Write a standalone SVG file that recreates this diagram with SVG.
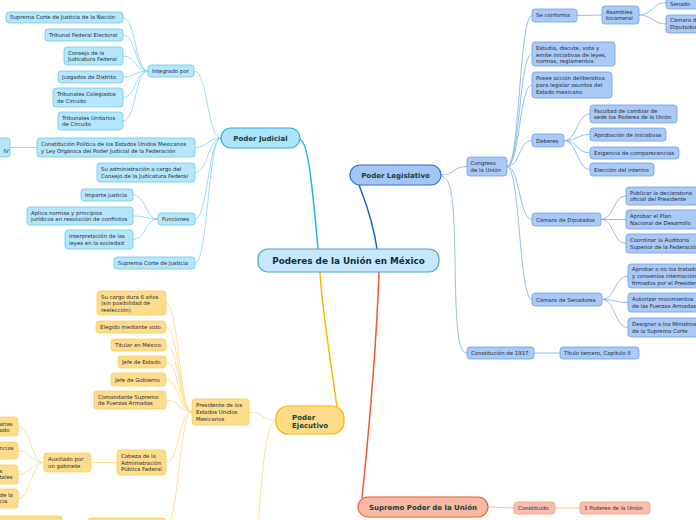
<svg xmlns="http://www.w3.org/2000/svg" width="696" height="520" viewBox="0 0 696 520">
<style>
text{font-family:"DejaVu Sans","Liberation Sans",sans-serif;}
.t{font-size:5.4px;fill:#1f2b3a;}
.h{font-size:7px;font-weight:bold;fill:#163d3a;}
.c{font-size:8.8px;font-weight:bold;fill:#0f2a4a;}
.jb{fill:#b5e6fb;stroke:#6cc8ef;stroke-width:0.8;}
.lb{fill:#a9c9f6;stroke:#6d9fee;stroke-width:0.8;}
.eb{fill:#fedc8c;stroke:#fbcd62;stroke-width:0.8;}
.sb{fill:#fbbfac;stroke:#f4977a;stroke-width:0.8;}
.jl{fill:none;stroke:#8fd5f3;stroke-width:0.9;}
.ll{fill:none;stroke:#8ab2ee;stroke-width:0.9;}
.el{fill:none;stroke:#fddc8c;stroke-width:0.9;}
.sl{fill:none;stroke:#f6b39d;stroke-width:0.9;}
</style>
<rect width="696" height="520" fill="#ffffff"/>
<g id="connectors">
<path d="M299 139 C307 139 311 170 318 249" fill="none" stroke="#28b2e8" stroke-width="1.5"/>
<path d="M359 185 C363 196 372 215 377 249" fill="none" stroke="#1b5fcc" stroke-width="1.5"/>
<path d="M320 272 C322 310 332 370 337 407" fill="none" stroke="#f6b800" stroke-width="1.5"/>
<path d="M379 272 C377 330 370 420 362 498" fill="none" stroke="#ee5a2c" stroke-width="1.5"/>
<path class="jl" d="M221 138 C207 138 208 71 194 71"/>
<path class="jl" d="M221 138 C208 138 208 147.5 195 147.5"/>
<path class="jl" d="M221 138 C208 138 208 172.5 195 172.5"/>
<path class="jl" d="M221 138 C208 138 208 219 195 219"/>
<path class="jl" d="M221 138 C208 138 208 263 195 263"/>
<path class="jl" d="M148 71 C135 71 136 17.5 123 17.5"/>
<path class="jl" d="M148 71 C135 71 136 35 123 35"/>
<path class="jl" d="M148 71 C135 71 136 56 123 56"/>
<path class="jl" d="M148 71 C135 71 136 77 123 77"/>
<path class="jl" d="M148 71 C135 71 136 97.5 123 97.5"/>
<path class="jl" d="M148 71 C135 71 136 121 123 121"/>
<path class="jl" d="M158 219 C145 219 146 195 133 195"/>
<path class="jl" d="M158 219 C145 219 146 216 133 216"/>
<path class="jl" d="M158 219 C145 219 146 239.5 133 239.5"/>
<path class="jl" d="M37 147.5 L10 147.5"/>
<path class="ll" d="M441 175 C454 175 453 166.5 467 166.5"/>
<path class="ll" d="M441 176 C452 178 454 200 455 260 C456 330 458 353 467 353"/>
<path class="ll" d="M507 166.5 C520 166.5 519 15.5 532 15.5"/>
<path class="ll" d="M507 166.5 C520 166.5 519 54 532 54"/>
<path class="ll" d="M507 166.5 C520 166.5 519 85 532 85"/>
<path class="ll" d="M507 166.5 C520 166.5 519 140.5 532 140.5"/>
<path class="ll" d="M507 166.5 C520 166.5 519 219.5 532 219.5"/>
<path class="ll" d="M507 166.5 C520 166.5 519 299.5 532 299.5"/>
<path class="ll" d="M577 15.5 L602 15"/>
<path class="ll" d="M639 15 C652 15 653 2.5 666 2.5"/>
<path class="ll" d="M639 15 C652 15 653 24 666 24"/>
<path class="ll" d="M564 140.5 C577 140.5 577 114 590 114"/>
<path class="ll" d="M564 140.5 C577 140.5 577 134.5 590 134.5"/>
<path class="ll" d="M564 140.5 C577 140.5 577 153 590 153"/>
<path class="ll" d="M564 140.5 C577 140.5 577 169.5 590 169.5"/>
<path class="ll" d="M601 219.5 C614 219.5 613 196 626 196"/>
<path class="ll" d="M601 219.5 C614 219.5 613 219.5 626 219.5"/>
<path class="ll" d="M601 219.5 C614 219.5 613 243.5 626 243.5"/>
<path class="ll" d="M602 299.5 C615 299.5 615 276 628 276"/>
<path class="ll" d="M602 299.5 C615 299.5 615 302.5 628 302.5"/>
<path class="ll" d="M602 299.5 C615 299.5 615 327.5 628 327.5"/>
<path class="ll" d="M534 353 L560 353"/>
<path class="el" d="M276 420 C262 420 263 412 249 412"/>
<path class="el" d="M276 421 C266 421 262 470 258 530"/>
<path class="el" d="M192 412 C179 412 179 303 166 303"/>
<path class="el" d="M192 412 C179 412 179 327 166 327"/>
<path class="el" d="M192 412 C179 412 179 345 166 345"/>
<path class="el" d="M192 412 C179 412 179 362 166 362"/>
<path class="el" d="M192 412 C179 412 179 379.5 166 379.5"/>
<path class="el" d="M192 412 C179 412 179 400 166 400"/>
<path class="el" d="M192 412 C179 412 179 462.5 166 462.5"/>
<path class="el" d="M192 412 C179 412 179 525 166 525"/>
<path class="el" d="M117 462.5 L91 462.5"/>
<path class="el" d="M44 462.5 C31 462.5 31 426.5 18 426.5"/>
<path class="el" d="M44 462.5 C31 462.5 31 450.5 18 450.5"/>
<path class="el" d="M44 462.5 C31 462.5 31 474.5 18 474.5"/>
<path class="el" d="M44 462.5 C31 462.5 31 498.5 18 498.5"/>
<path class="sl" d="M488 507 C500 507 502 508 514 508"/>
<path class="sl" d="M555 508 L580 508"/>
</g>
<g id="center"><rect x="258" y="249" width="181" height="23" rx="10" fill="#c7e8fa" stroke="#4a9fd8" stroke-width="1.2"/><text class="c" x="348.5" y="264" text-anchor="middle">Poderes de la Unión en México</text></g>
<g id="poder-judicial"><rect x="221" y="128" width="79" height="20" rx="10" fill="#aee4f9" stroke="#29aee6" stroke-width="1.2"/><text class="h" x="260.5" y="140.5" text-anchor="middle">Poder Judicial</text></g>
<g id="poder-legislativo"><rect x="350" y="165" width="91" height="20" rx="10" fill="#a3c6f7" stroke="#2f6fd4" stroke-width="1.2"/><text class="h" x="395.5" y="177.5" text-anchor="middle">Poder Legislativo</text></g>
<g id="poder-ejecutivo"><rect x="276" y="406" width="68" height="28" rx="12" fill="#fddb87" stroke="#f7b500" stroke-width="1.2"/><text class="h" x="292" y="419.5">Poder</text><text class="h" x="292" y="428">Ejecutivo</text></g>
<g id="supremo"><rect x="358" y="497" width="130" height="20" rx="10" fill="#f8b9a4" stroke="#eb5e2f" stroke-width="1.2"/><text class="h" x="423" y="509.5" text-anchor="middle">Supremo Poder de la Unión</text></g>
<g id="j-integrado"><rect class="jb" x="148" y="65" width="46" height="12" rx="3"/><text class="t" x="152" y="72.9">Integrado por</text></g>
<g id="j-scjn"><rect class="jb" x="6" y="12" width="117" height="11" rx="3"/><text class="t" x="10" y="19.4">Suprema Corte de Justicia de la Nación</text></g>
<g id="j-tfe"><rect class="jb" x="45" y="29" width="78" height="12" rx="3"/><text class="t" x="49" y="36.9">Tribunal Federal Electoral</text></g>
<g id="j-cjf"><rect class="jb" x="64" y="47" width="59" height="18" rx="3"/><text class="t" x="68" y="54.6">Consejo de la</text><text class="t" x="68" y="61.2">Judicatura Federal</text></g>
<g id="j-jd"><rect class="jb" x="58" y="71" width="65" height="12" rx="3"/><text class="t" x="62" y="78.9">Juzgados de Distrito</text></g>
<g id="j-tcc"><rect class="jb" x="53" y="88" width="70" height="19" rx="3"/><text class="t" x="57" y="96.1">Tribunales Colegiados</text><text class="t" x="57" y="102.7">de Circuito</text></g>
<g id="j-tuc"><rect class="jb" x="58" y="112" width="65" height="18" rx="3"/><text class="t" x="62" y="119.6">Tribunales Unitarios</text><text class="t" x="62" y="126.2">de Circuito</text></g>
<g id="j-const"><rect class="jb" x="37" y="138" width="158" height="19" rx="3"/><text class="t" x="41" y="146.1">Constitución Política de los Estados Unidos Mexicanos</text><text class="t" x="41" y="152.7">y Ley Orgánica del Poder Judicial de la Federación</text></g>
<g id="j-iv"><rect class="jb" x="-40" y="138" width="50" height="19" rx="3"/><text class="t" x="3.5" y="153.4">IV</text></g>
<g id="j-admin"><rect class="jb" x="97" y="163" width="98" height="19" rx="3"/><text class="t" x="101" y="171.1">Su administración a cargo del</text><text class="t" x="101" y="177.7">Consejo de la Judicatura Federal</text></g>
<g id="j-funciones"><rect class="jb" x="158" y="213" width="37" height="12" rx="3"/><text class="t" x="162" y="220.9">Funciones</text></g>
<g id="j-imparte"><rect class="jb" x="81" y="189" width="52" height="12" rx="3"/><text class="t" x="85" y="196.9">Imparte justicia</text></g>
<g id="j-aplica"><rect class="jb" x="27" y="207" width="106" height="18" rx="3"/><text class="t" x="31" y="214.6">Aplica normas y principios</text><text class="t" x="31" y="221.2">jurídicos en resolución de conflictos</text></g>
<g id="j-interp"><rect class="jb" x="65" y="230" width="68" height="19" rx="3"/><text class="t" x="69" y="238.1">Interpretación de las</text><text class="t" x="69" y="244.7">leyes en la sociedad</text></g>
<g id="j-scj"><rect class="jb" x="114" y="257" width="81" height="12" rx="3"/><text class="t" x="118" y="264.9">Suprema Corte de Justicia</text></g>
<g id="l-congreso"><rect class="lb" x="467" y="157" width="40" height="19" rx="3"/><text class="t" x="470.5" y="165.1">Congreso</text><text class="t" x="470.5" y="171.7">de la Unión</text></g>
<g id="l-seconforma"><rect class="lb" x="532" y="9" width="45" height="13" rx="3"/><text class="t" x="536" y="17.4">Se conforma</text></g>
<g id="l-asamblea"><rect class="lb" x="602" y="6" width="37" height="18" rx="3"/><text class="t" x="606" y="13.6">Asamblea</text><text class="t" x="606" y="20.2">bicameral</text></g>
<g id="l-senado"><rect class="lb" x="666" y="-4" width="40" height="13" rx="3"/><text class="t" x="670" y="6">Senado</text></g>
<g id="l-camdip"><rect class="lb" x="666" y="15" width="40" height="18" rx="3"/><text class="t" x="670" y="22.4">Cámara de</text><text class="t" x="670" y="29.2">Diputados</text></g>
<g id="l-estudia"><rect class="lb" x="532" y="42" width="83" height="24" rx="3"/><text class="t" x="536" y="50">Estudia, discute, vota y</text><text class="t" x="536" y="56.6">emite iniciativas de leyes,</text><text class="t" x="536" y="63.2">normas, reglamentos</text></g>
<g id="l-posee"><rect class="lb" x="532" y="72" width="80" height="26" rx="3"/><text class="t" x="536" y="80.4">Posee acción deliberativa</text><text class="t" x="536" y="87">para legislar asuntos del</text><text class="t" x="536" y="93.6">Estado mexicano</text></g>
<g id="l-deberes"><rect class="lb" x="532" y="134" width="32" height="13" rx="3"/><text class="t" x="536" y="142.5">Deberes</text></g>
<g id="l-facultad"><rect class="lb" x="590" y="105" width="87" height="18" rx="3"/><text class="t" x="594" y="112.7">Facultad de cambiar de</text><text class="t" x="594" y="119.3">sede los Poderes de la Unión</text></g>
<g id="l-aprob"><rect class="lb" x="590" y="128" width="76" height="13" rx="3"/><text class="t" x="594" y="136.5">Aprobación de iniciativas</text></g>
<g id="l-exig"><rect class="lb" x="590" y="147" width="89" height="12" rx="3"/><text class="t" x="594" y="155">Exigencia de comparecencias</text></g>
<g id="l-elec"><rect class="lb" x="590" y="163" width="64" height="13" rx="3"/><text class="t" x="594" y="171.5">Elección del interino</text></g>
<g id="l-diputados"><rect class="lb" x="532" y="213" width="69" height="13" rx="3"/><text class="t" x="536" y="221.5">Cámara de Diputados</text></g>
<g id="l-publicar"><rect class="lb" x="626" y="187" width="80" height="18" rx="3"/><text class="t" x="630" y="194.7">Publicar la declaratoria</text><text class="t" x="630" y="201.3">oficial del Presidente</text></g>
<g id="l-plan"><rect class="lb" x="626" y="210" width="80" height="19" rx="3"/><text class="t" x="630" y="218.2">Aprobar el Plan</text><text class="t" x="630" y="224.8">Nacional de Desarrollo</text></g>
<g id="l-auditoria"><rect class="lb" x="626" y="234" width="80" height="19" rx="3"/><text class="t" x="630" y="242.2">Coordinar la Auditoría</text><text class="t" x="630" y="248.8">Superior de la Federación</text></g>
<g id="l-senadores"><rect class="lb" x="532" y="293" width="70" height="13" rx="3"/><text class="t" x="536" y="301.5">Cámara de Senadores</text></g>
<g id="l-tratados"><rect class="lb" x="628" y="264" width="80" height="24" rx="3"/><text class="t" x="632" y="271.4">Aprobar o no los tratados</text><text class="t" x="632" y="278">y convenios internacionales</text><text class="t" x="632" y="284.6">firmados por el Presidente</text></g>
<g id="l-fuerzas"><rect class="lb" x="628" y="293" width="80" height="19" rx="3"/><text class="t" x="632" y="301.2">Autorizar movimientos</text><text class="t" x="632" y="307.8">de las Fuerzas Armadas</text></g>
<g id="l-ministros"><rect class="lb" x="628" y="318" width="80" height="19" rx="3"/><text class="t" x="632" y="326.2">Designar a los Ministros</text><text class="t" x="632" y="332.8">de la Suprema Corte</text></g>
<g id="l-const1917"><rect class="lb" x="467" y="347" width="67" height="12" rx="3"/><text class="t" x="471" y="355">Constitución de 1917</text></g>
<g id="l-titulo"><rect class="lb" x="560" y="347" width="79" height="12" rx="3"/><text class="t" x="564" y="355">Título tercero, Capítulo II</text></g>
<g id="e-presidente"><rect class="eb" x="192" y="399" width="57" height="26" rx="3"/><text class="t" x="196" y="407.4">Presidente de los</text><text class="t" x="196" y="414">Estados Unidos</text><text class="t" x="196" y="420.6">Mexicanos</text></g>
<g id="e-cargo"><rect class="eb" x="97" y="291" width="69" height="24" rx="3"/><text class="t" x="101" y="298.6">Su cargo dura 6 años</text><text class="t" x="101" y="305.2">(sin posibilidad de</text><text class="t" x="101" y="311.8">reelección)</text></g>
<g id="e-elegido"><rect class="eb" x="96" y="321" width="70" height="12" rx="3"/><text class="t" x="100" y="329">Elegido mediante voto</text></g>
<g id="e-titular"><rect class="eb" x="111" y="339" width="55" height="12" rx="3"/><text class="t" x="115" y="347">Titular en México</text></g>
<g id="e-jefeestado"><rect class="eb" x="118" y="356" width="48" height="12" rx="3"/><text class="t" x="122" y="364">Jefe de Estado</text></g>
<g id="e-jefegob"><rect class="eb" x="111" y="373" width="55" height="13" rx="3"/><text class="t" x="115" y="381.5">Jefe de Gobierno</text></g>
<g id="e-comandante"><rect class="eb" x="94" y="391" width="72" height="18" rx="3"/><text class="t" x="98" y="398.7">Comandante Supremo</text><text class="t" x="98" y="405.3">de Fuerzas Armadas</text></g>
<g id="e-cabeza"><rect class="eb" x="117" y="450" width="49" height="25" rx="3"/><text class="t" x="121" y="457.9">Cabeza de la</text><text class="t" x="121" y="464.5">Administración</text><text class="t" x="121" y="471.1">Pública Federal</text></g>
<g id="e-auxiliado"><rect class="eb" x="44" y="453" width="47" height="19" rx="3"/><text class="t" x="48" y="461.2">Auxiliado por</text><text class="t" x="48" y="467.8">un gabinete</text></g>
<g id="e-aux1"><rect class="eb" x="-30" y="417" width="48" height="19" rx="3"/><text class="t" x="-0.5" y="425.6">arias</text><text class="t" x="-0.5" y="432.2">ado</text></g>
<g id="e-aux2"><rect class="eb" x="-30" y="442" width="48" height="17" rx="3"/><text class="t" x="-0.5" y="450">ncias</text></g>
<g id="e-aux3"><rect class="eb" x="-30" y="465" width="48" height="19" rx="3"/><text class="t" x="-0.5" y="472.6">s</text><text class="t" x="-0.5" y="479.2">tales</text></g>
<g id="e-aux4"><rect class="eb" x="-30" y="489" width="48" height="19" rx="3"/><text class="t" x="-0.5" y="496.6">de la</text><text class="t" x="-0.5" y="503.2">cia</text></g>
<g id="e-bottom1"><rect class="eb" x="88" y="518" width="78" height="14" rx="3"/></g>
<g id="e-bottom2"><rect class="eb" x="-10" y="516" width="72" height="14" rx="3"/></g>
<g id="s-constituido"><rect class="sb" x="514" y="502" width="41" height="12" rx="3"/><text class="t" x="518" y="510">Constituido</text></g>
<g id="s-poderes"><rect class="sb" x="580" y="502" width="70" height="12" rx="3"/><text class="t" x="584" y="510">3 Poderes de la Unión</text></g>
</svg>
